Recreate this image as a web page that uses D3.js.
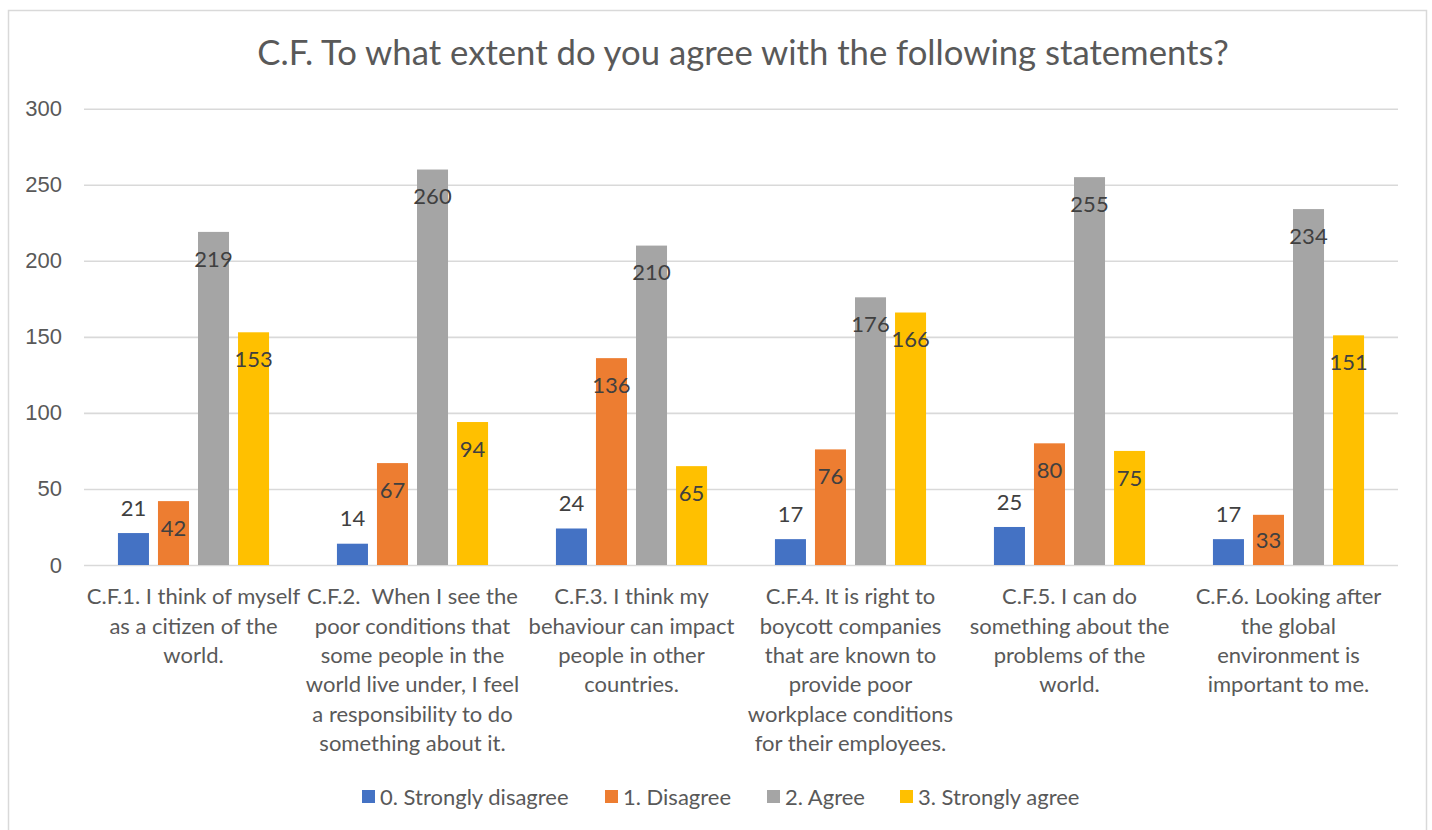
<!DOCTYPE html>
<html>
<head>
<meta charset="utf-8">
<script src="https://cdn.jsdelivr.net/npm/d3@7/dist/d3.min.js"></script>
<style>
  html, body { margin: 0; padding: 0; background: #ffffff; }
  svg { display: block; font-family: Lato, "Open Sans", sans-serif; }
</style>
</head>
<body>
<svg id="chart" width="1432" height="830"></svg>
<script>
// Survey statements, one array of wrapped lines per category
const categories = [
  ["C.F.1. I think of myself", "as a citizen of the", "world."],
  ["C.F.2.  When I see the", "poor conditions that", "some people in the", "world live under, I feel", "a responsibility to do", "something about it."],
  ["C.F.3. I think my", "behaviour can impact", "people in other", "countries."],
  ["C.F.4. It is right to", "boycott companies", "that are known to", "provide poor", "workplace conditions", "for their employees."],
  ["C.F.5. I can do", "something about the", "problems of the", "world."],
  ["C.F.6. Looking after", "the global", "environment is", "important to me."]
];

const seriesNames = ["0. Strongly disagree", "1. Disagree", "2. Agree", "3. Strongly agree"];
const seriesColors = ["#4472C4", "#ED7D31", "#A5A5A5", "#FFC000"];

const stronglyDisagree = [21, 14, 24, 17, 25, 17];
const disagree         = [42, 67, 136, 76, 80, 33];
const agree            = [219, 260, 210, 176, 255, 234];
const stronglyAgree    = [153, 94, 65, 166, 75, 151];

const yTicks = [0, 50, 100, 150, 200, 250, 300];
const title = "C.F. To what extent do you agree with the following statements?";

const seriesValues = [stronglyDisagree, disagree, agree, stronglyAgree];

const svg = d3.select("#chart");

// chart frame
svg.append("rect")
  .attr("x", 8.5).attr("y", 10.5)
  .attr("width", 1418).attr("height", 840)
  .attr("fill", "#ffffff")
  .attr("stroke", "#D9D9D9").attr("stroke-width", 1.5);

const plot = { left: 84, right: 1398, top: 108.7, bottom: 565 };

const x0 = d3.scaleBand()
  .domain(d3.range(categories.length))
  .range([plot.left, plot.right])
  .padding(0);

const clusterWidth = x0.bandwidth() * 0.69;
const x1 = d3.scaleBand()
  .domain(d3.range(seriesNames.length))
  .range([(x0.bandwidth() - clusterWidth) / 2, (x0.bandwidth() + clusterWidth) / 2])
  .paddingInner(0.225)
  .paddingOuter(0);

const y = d3.scaleLinear().domain([0, 300]).range([plot.bottom, plot.top]);

// gridlines
const yAxis = d3.axisLeft(y)
  .tickValues(yTicks)
  .tickSize(-(plot.right - plot.left))
  .tickPadding(22)
  .tickFormat(d3.format("d"));

const gAxis = svg.append("g")
  .attr("transform", `translate(${plot.left},0)`)
  .call(yAxis);
gAxis.select(".domain").remove();
gAxis.selectAll(".tick line").attr("stroke", "#D9D9D9").attr("stroke-width", 1.6);
gAxis.selectAll(".tick text")
  .attr("fill", "#595959")
  .style("font-size", "22px");

// title
svg.append("text")
  .attr("x", 743).attr("y", 53)
  .attr("text-anchor", "middle")
  .attr("dy", "0.35em")
  .attr("fill", "#595959")
  .style("font-size", "34.7px")
  .text(title);

// bars
const rows = [];
categories.forEach((c, ci) => {
  seriesValues.forEach((vals, si) => rows.push({ ci, si, v: vals[ci] }));
});

const groups = svg.append("g");
groups.selectAll("rect.bar")
  .data(rows)
  .join("rect")
  .attr("class", "bar")
  .attr("x", d => x0(d.ci) + x1(d.si))
  .attr("y", d => y(d.v))
  .attr("width", x1.bandwidth())
  .attr("height", d => y(0) - y(d.v))
  .attr("fill", d => seriesColors[d.si]);

// data labels: inside the top of the bar, or above it when the bar is short
groups.selectAll("text.lbl")
  .data(rows)
  .join("text")
  .attr("class", "lbl")
  .attr("x", d => x0(d.ci) + x1(d.si) + x1.bandwidth() / 2)
  .attr("y", d => {
    const top = y(d.v), h = y(0) - y(d.v);
    if (h < 48) return top - 25;
    return Math.min(top + 27, y(0) - 25);
  })
  .attr("dy", "0.35em")
  .attr("text-anchor", "middle")
  .attr("fill", "#404040")
  .style("font-size", "22px")
  .text(d => d.v);

// category labels
const cat = svg.append("g").selectAll("text.cat")
  .data(categories)
  .join("text")
  .attr("class", "cat")
  .attr("text-anchor", "middle")
  .attr("fill", "#595959")
  .style("font-size", "22px")
  .style("white-space", "pre")
  .attr("transform", (d, i) => `translate(${x0(i) + x0.bandwidth() / 2},${596.7})`);

cat.selectAll("tspan")
  .data(d => d)
  .join("tspan")
  .attr("x", 0)
  .attr("y", (d, i) => i * 29.3)
  .attr("dy", "0.35em")
  .text(d => d);

// legend
const legendX = [362, 605, 767, 900];
const leg = svg.append("g").selectAll("g")
  .data(seriesNames)
  .join("g")
  .attr("transform", (d, i) => `translate(${legendX[i]},797)`);
leg.append("rect")
  .attr("x", 0).attr("y", -7)
  .attr("width", 13).attr("height", 13)
  .attr("fill", (d, i) => seriesColors[i]);
leg.append("text")
  .attr("x", 18).attr("y", 0)
  .attr("dy", "0.35em")
  .attr("fill", "#595959")
  .style("font-size", "22px")
  .text(d => d);
</script>
</body>
</html>
